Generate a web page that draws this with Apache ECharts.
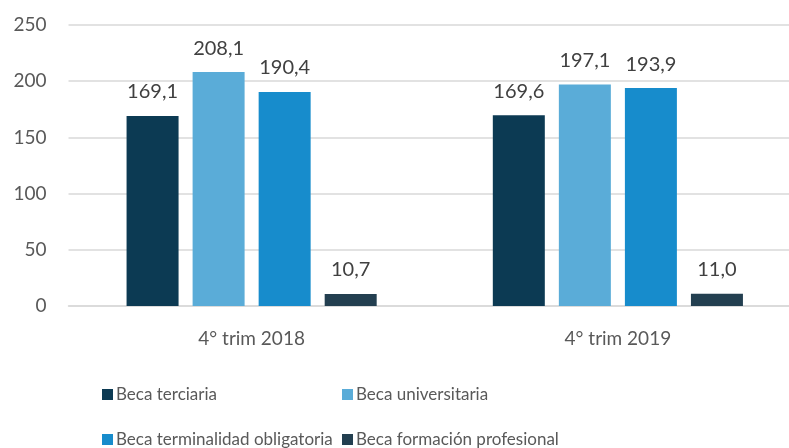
<!DOCTYPE html>
<html><head><meta charset="utf-8">
<script src="https://cdn.jsdelivr.net/npm/echarts@6/dist/echarts.min.js"></script>
<style>html,body{margin:0;padding:0;background:#fff;overflow:hidden}#c{width:801px;height:448px}</style>
</head><body><div id="c"></div>
<script>
const categories = ['4° trim 2018', '4° trim 2019'];
const seriesNames = ['Beca terciaria', 'Beca universitaria', 'Beca terminalidad obligatoria', 'Beca formación profesional'];
const terciaria = [169.1, 169.6];
const universitaria = [208.1, 197.1];
const terminalidad = [190.4, 193.9];
const formacion = [10.7, 11.0];
const yTicks = [0, 50, 100, 150, 200, 250];

const colors = ['#0c3a53', '#5aacd8', '#178ccc', '#233f50'];
const values = [terciaria, universitaria, terminalidad, formacion];
const font = 'Lato, "Liberation Sans", sans-serif';
const chart = echarts.init(document.getElementById('c'));
const legendPos = [[97, 381], [337, 381], [97, 426], [337, 426]];
chart.setOption({
  animation: false,
  grid: {left: 68.5, top: 25, right: 0, height: 281},
  xAxis: {type: 'category', data: categories,
    axisLine: {lineStyle: {color: '#d9d9d9', width: 1.5}}, axisTick: {show: false},
    axisLabel: {color: '#595959', fontSize: 19, fontFamily: font, margin: 23}},
  yAxis: {type: 'value', min: yTicks[0], max: yTicks[yTicks.length - 1], interval: 50,
    axisLine: {show: false}, axisTick: {show: false},
    splitLine: {lineStyle: {color: '#d9d9d9', width: 1.5}},
    axisLabel: {color: '#595959', fontSize: 19, fontFamily: font, margin: 22}},
  legend: seriesNames.map((n, i) => ({
    data: [n], left: legendPos[i][0], top: legendPos[i][1], itemWidth: 11, itemHeight: 11,
    itemGap: 0, icon: 'rect', selectedMode: false, width: 300,
    textStyle: {color: '#595959', fontSize: 17, fontFamily: font, padding: [0, 0, 0, -2]}
  })),
  series: seriesNames.map((n, i) => ({
    name: n, type: 'bar', data: values[i], barWidth: 52, barGap: '27%',
    itemStyle: {color: colors[i]},
    label: {show: true, position: 'top', distance: 14, color: '#404040', fontSize: 20, fontFamily: font,
      formatter: p => p.value.toFixed(1).replace('.', ',')}
  }))
});
</script></body></html>
